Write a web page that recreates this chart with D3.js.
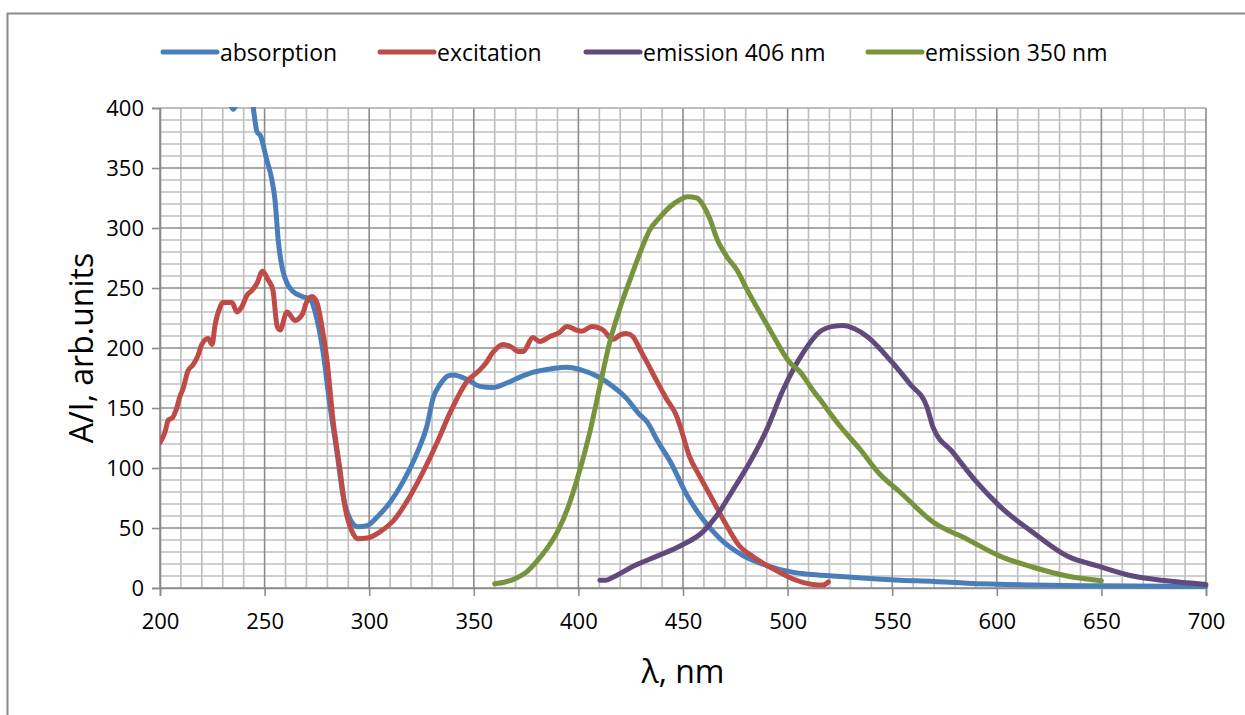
<!DOCTYPE html>
<html>
<head>
<meta charset="utf-8">
<script src="https://cdn.jsdelivr.net/npm/d3@7"></script>
<style>
  html, body { margin: 0; padding: 0; background: #fff; }
  svg { display: block; font-family: "Open Sans", sans-serif; }
</style>
</head>
<body>
<div id="chart"></div>
<script>
//Values, wavelength in nm and intensity in arb. units
const seriesNames = ["absorption", "excitation", "emission 406 nm", "emission 350 nm"];

const absorptionNm = [228, 232, 235, 238, 242, 244, 246.4, 248, 251, 253.5, 255, 256.5, 258.5, 261, 263.6, 268, 272, 275, 278, 281, 284.6, 287.5, 291, 294.7, 299, 303.7, 310, 316, 323, 327.6, 330.5, 334, 338, 340, 346.7, 353, 359, 366, 370.6, 378, 388, 394.5, 400.8, 409, 416.5, 420, 423, 429, 433, 438, 444, 452, 459.6, 467.7, 478.7, 490, 502.6, 510, 521.7, 542.7, 553.7, 570, 585.8, 600, 617, 649, 700];
const absorptionVal = [430, 415, 399, 412, 420, 407, 380, 377, 357, 340, 323, 290, 266, 253, 247, 243, 240, 224, 196, 155, 113, 77, 57, 51, 52, 59, 71.5, 88, 113, 135, 158, 170, 177, 177.5, 174, 168, 167, 171, 174.6, 179.6, 183, 184, 182, 176.5, 168, 163, 158, 145, 138, 122, 105, 77, 57, 41, 27, 18.7, 13, 11.5, 10, 7.5, 6.5, 5.5, 4, 3.2, 2.5, 1.8, 1.3];

const excitationNm = [200, 202.4, 204, 206, 208, 209.6, 211, 213.4, 215.8, 218, 220, 223, 224.9, 226.3, 228.7, 230, 234.4, 236.8, 239, 241.6, 244, 246.4, 249, 251.6, 254, 256, 257.4, 260.7, 264.5, 268, 270, 272.7, 275, 277.4, 279.8, 282.7, 286, 288.4, 291.8, 294.7, 299, 305, 311.4, 319.5, 325.7, 332.4, 338.6, 340, 346.7, 353, 356, 359, 364, 368.7, 371, 373.5, 378.3, 381.6, 386.4, 391, 394.5, 399, 401.7, 406.5, 411.8, 416.5, 420, 423, 426, 429.4, 432.8, 437.6, 442, 447, 448.6, 453, 458, 464, 471, 477, 483.5, 493, 502.6, 512, 517, 519.5];
const excitationVal = [121, 130, 140, 142, 150, 160, 166, 181, 186, 193, 203, 208, 203, 219, 234, 238, 238, 230, 234, 244, 248, 254, 264, 257, 248, 218, 215, 230, 223, 228, 238, 243, 238, 218, 190, 140, 99, 68, 47, 41, 41.6, 46.6, 55.7, 76.5, 96.5, 121, 146, 151, 172, 182, 188, 196, 203, 200, 197, 197, 208.7, 205.4, 209.6, 213, 218, 215, 214, 218, 215, 207, 211, 212, 209.6, 199, 188, 172, 158, 143, 135, 110, 93, 74, 51.6, 35, 26, 16, 7.5, 3, 2.5, 5];

const emission406Nm = [410.3, 413, 416.5, 426, 437.6, 448.6, 459.6, 466, 474, 482, 490, 497.8, 507.4, 515, 521.7, 526.5, 532, 538, 549, 558.5, 566.6, 569.5, 579, 590.5, 601.5, 617, 633.6, 649, 665, 681, 700];
const emission406Val = [6.5, 6.5, 9, 18, 26.6, 35, 47, 60, 82, 105, 132, 165, 196, 213, 218, 218.7, 216, 209.6, 190, 170, 151, 134, 113, 88, 68, 46.6, 26.6, 18, 10, 6, 3];

const emission350Nm = [360, 365, 370, 375, 380, 385, 390, 395, 399.3, 405.5, 410, 415, 420, 424.7, 429.4, 434, 439, 443.8, 448.6, 452, 456.7, 459.6, 463, 466, 471, 475.8, 480.5, 491.6, 501, 506, 512, 515.5, 525, 534.6, 544, 553.7, 569.5, 585.8, 601.5, 617, 633.6, 650];
const emission350Val = [3.5, 5, 8, 13, 22, 33, 47, 67, 90, 130, 166, 205, 234, 257, 279, 298, 309, 317.7, 323.5, 326, 325, 319, 307, 292, 276, 265, 249, 215, 188, 180, 165, 157, 135, 115.6, 95, 80, 55, 40.7, 26.6, 17.5, 10, 6];

const xMajorTicks = [200, 250, 300, 350, 400, 450, 500, 550, 600, 650, 700];
const yMajorTicks = [0, 50, 100, 150, 200, 250, 300, 350, 400];

class SpectraChart {

  constructor() {
      this.svgWidth = 1245;
      this.svgHeight = 715;
      this.svg = d3.select("#chart").append("svg")
          .attr("width", this.svgWidth).attr("height", this.svgHeight);

      //plot area
      this.left = 160;
      this.right = 1206;
      this.top = 108;
      this.bottom = 588;

      this.xScale = d3.scaleLinear().domain([200, 700]).range([this.left, this.right]);
      this.yScale = d3.scaleLinear().domain([0, 400]).range([this.bottom, this.top]);
      this.colorScale = d3.scaleOrdinal().domain(seriesNames)
          .range(["#4a7ebb", "#be4b48", "#604a7b", "#77933c"]);

      //outer chart frame
      this.svg.append("rect")
          .attr("x", 7.5).attr("y", 13.5)
          .attr("width", 1260).attr("height", 720)
          .attr("fill", "none").attr("stroke", "#8a8a8a").attr("stroke-width", 2);
  }

  drawGrid() {
      let grid = this.svg.append("g");
      let minorX = d3.range(200, 701, 10).filter(d => d % 50 !== 0);
      let minorY = d3.range(0, 401, 10).filter(d => d % 50 !== 0);

      grid.selectAll(".mx").data(minorX).enter().append("line")
          .attr("x1", d => this.xScale(d)).attr("x2", d => this.xScale(d))
          .attr("y1", this.top).attr("y2", this.bottom)
          .attr("stroke", "#c0c0c0").attr("stroke-width", 1.7);
      grid.selectAll(".my").data(minorY).enter().append("line")
          .attr("y1", d => this.yScale(d)).attr("y2", d => this.yScale(d))
          .attr("x1", this.left).attr("x2", this.right)
          .attr("stroke", "#c0c0c0").attr("stroke-width", 1.7);

      grid.selectAll(".Mx").data(xMajorTicks).enter().append("line")
          .attr("x1", d => this.xScale(d)).attr("x2", d => this.xScale(d))
          .attr("y1", this.top).attr("y2", this.bottom)
          .attr("stroke", "#8c8c8c").attr("stroke-width", 1.6);
      grid.selectAll(".My").data(yMajorTicks).enter().append("line")
          .attr("y1", d => this.yScale(d)).attr("y2", d => this.yScale(d))
          .attr("x1", this.left).attr("x2", this.right)
          .attr("stroke", d => d === 400 ? "#a8a8a8" : "#8c8c8c").attr("stroke-width", 1.6);
  }

  drawAxes() {
      let xAxis = d3.axisBottom(this.xScale).tickValues(xMajorTicks).tickSize(8).tickPadding(17);
      let yAxis = d3.axisLeft(this.yScale).tickValues(yMajorTicks).tickSize(8).tickPadding(8);

      let xg = this.svg.append("g").attr("transform", `translate(0, ${this.bottom})`).call(xAxis);
      let yg = this.svg.append("g").attr("transform", `translate(${this.left}, 0)`).call(yAxis);

      [xg, yg].forEach(g => {
          g.select(".domain").attr("stroke", "#8c8c8c").attr("stroke-width", 1.6);
          g.selectAll(".tick line").attr("stroke", "#8c8c8c").attr("stroke-width", 1.6);
          g.selectAll(".tick text").attr("font-family", "Open Sans").attr("font-size", 22).attr("fill", "#000");
      });

      this.svg.append("text")
          .attr("transform", `translate(80, ${(this.top + this.bottom) / 2}) rotate(-90)`)
          .attr("text-anchor", "middle").attr("dominant-baseline", "central")
          .attr("font-size", 32).attr("fill", "#000")
          .text("A/I, arb.units");

      this.svg.append("text")
          .attr("x", (this.left + this.right) / 2).attr("y", 683)
          .attr("text-anchor", "middle")
          .attr("font-size", 32).attr("fill", "#000")
          .text("λ, nm");
  }

  drawLines() {
      this.svg.append("clipPath").attr("id", "plotClip")
          .append("rect")
          .attr("x", this.left).attr("y", this.top - 1)
          .attr("width", this.right - this.left + 4).attr("height", this.bottom - this.top + 4);

      let series = [
          {name: seriesNames[0], xs: absorptionNm, ys: absorptionVal},
          {name: seriesNames[1], xs: excitationNm, ys: excitationVal},
          {name: seriesNames[2], xs: emission406Nm, ys: emission406Val},
          {name: seriesNames[3], xs: emission350Nm, ys: emission350Val}
      ];

      let line = d3.line()
          .x(d => this.xScale(d[0]))
          .y(d => this.yScale(d[1]))
          .curve(d3.curveMonotoneX);

      let g = this.svg.append("g").attr("clip-path", "url(#plotClip)");
      g.selectAll("path").data(series).enter().append("path")
          .attr("d", s => line(d3.zip(s.xs, s.ys)))
          .attr("fill", "none")
          .attr("stroke", s => this.colorScale(s.name))
          .attr("stroke-width", 5)
          .attr("stroke-linejoin", "round")
          .attr("stroke-linecap", "round");
  }

  drawLegend() {
      let starts = [163, 380, 586, 868];
      let legend = this.svg.append("g");
      seriesNames.forEach((name, i) => {
          legend.append("line")
              .attr("x1", starts[i]).attr("x2", starts[i] + 54)
              .attr("y1", 52).attr("y2", 52)
              .attr("stroke", this.colorScale(name))
              .attr("stroke-width", 5).attr("stroke-linecap", "round");
          legend.append("text")
              .attr("x", starts[i] + 57).attr("y", 52)
              .attr("dominant-baseline", "central")
              .attr("font-size", 23).attr("fill", "#000")
              .text(name);
      });
  }
}

let chart = new SpectraChart();
chart.drawGrid();
chart.drawAxes();
chart.drawLines();
chart.drawLegend();
</script>
</body>
</html>
